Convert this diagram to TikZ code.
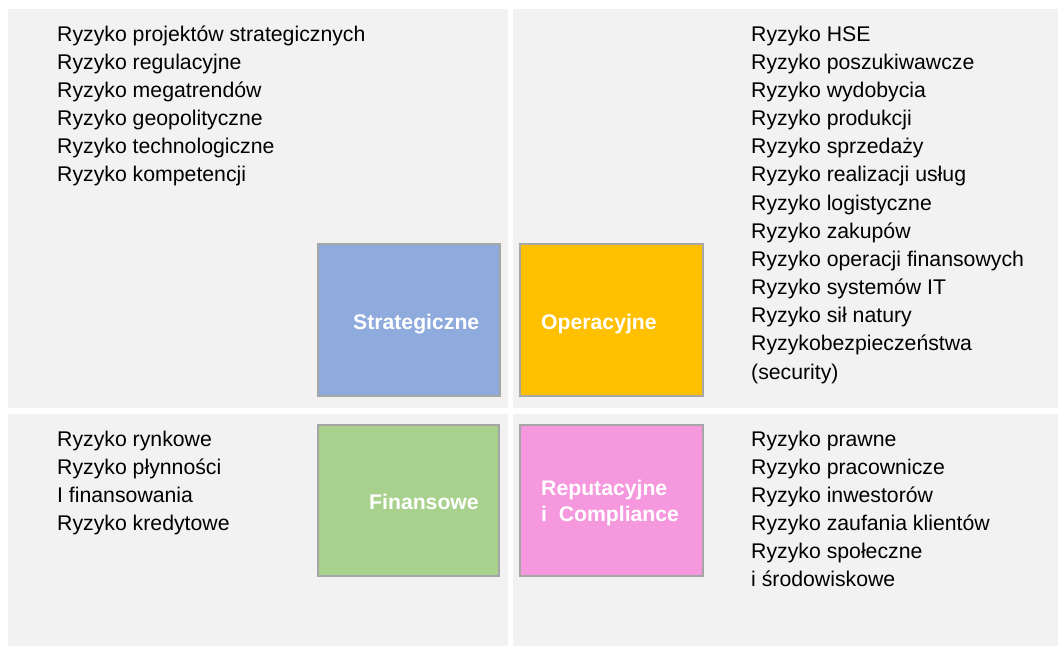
\documentclass[tikz,border=0pt]{standalone}
\usepackage{fontspec}
\setmainfont{Liberation Sans}
\definecolor{panel}{HTML}{F2F2F2}
\definecolor{boxline}{HTML}{A6A6A6}
\definecolor{cblue}{HTML}{8FAADC}
\definecolor{corange}{HTML}{FFC000}
\definecolor{cgreen}{HTML}{A9D18E}
\definecolor{cpink}{HTML}{F598DD}
\tikzset{
  panelbox/.style={fill=panel, draw=none},
  catbox/.style={draw=boxline, line width=1.5pt, minimum width=#1, minimum height=152pt, inner sep=0pt},
  catlabel/.style={anchor=base west, inner sep=0pt, text=white, font=\fontsize{21.2}{26}\selectfont\bfseries},
  item/.style={anchor=base west, inner sep=0pt, text=black, font=\fontsize{21.25}{28}\selectfont}
}
\begin{document}
\begin{tikzpicture}[x=1pt,y=1pt]
\useasboundingbox (0,0) rectangle (1058,-646);
\fill[white] (0,0) rectangle (1058,-646);
% panels
\fill[panelbox] (8,-9) rectangle (508,-408);
\fill[panelbox] (513,-9) rectangle (1058,-408);
\fill[panelbox] (8,-414) rectangle (508,-646);
\fill[panelbox] (513,-414) rectangle (1058,-646);
% category boxes
\node[catbox=182pt, fill=cblue] (strat) at (409,-320) {};
\node[catbox=183pt, fill=corange] (oper) at (611.5,-320) {};
\node[catbox=181pt, fill=cgreen, minimum height=151pt] (fin) at (408.5,-500.5) {};
\node[catbox=183pt, fill=cpink, minimum height=151pt] (rep) at (611.5,-500.5) {};
\node[catlabel] (stratlbl) at (353,-329) {Strategiczne};
\node[catlabel] (operlbl) at (541,-329) {Operacyjne};
\node[catlabel] (finlbl) at (369,-509) {Finansowe};
\node[catlabel] (replbl1) at (541,-495) {Reputacyjne};
\node[catlabel] (replbl2) at (541,-521) {i~~Compliance};
% top-left list
\foreach \t [count=\i] in {Ryzyko projektów strategicznych, Ryzyko regulacyjne, Ryzyko megatrendów, Ryzyko geopolityczne, Ryzyko technologiczne, Ryzyko kompetencji}
  \node[item] (tl\i) at (57,{-41-28*(\i-1)}) {\t};
% top-right list
\foreach \t [count=\i] in {Ryzyko HSE, Ryzyko poszukiwawcze, Ryzyko wydobycia, Ryzyko produkcji, Ryzyko sprzedaży, Ryzyko realizacji usług, Ryzyko logistyczne, Ryzyko zakupów, Ryzyko operacji finansowych, Ryzyko systemów IT, Ryzyko sił natury, Ryzykobezpieczeństwa, (security)}
  \node[item] (tr\i) at (751,{-41-28.17*(\i-1)}) {\t};
% bottom-left list
\foreach \t [count=\i] in {Ryzyko rynkowe, Ryzyko płynności, I finansowania, Ryzyko kredytowe}
  \node[item] (bl\i) at (57,{-446-28*(\i-1)}) {\t};
% bottom-right list
\foreach \t [count=\i] in {Ryzyko prawne, Ryzyko pracownicze, Ryzyko inwestorów, Ryzyko zaufania klientów, Ryzyko społeczne, i środowiskowe}
  \node[item] (br\i) at (751,{-446-28*(\i-1)}) {\t};
\end{tikzpicture}
\end{document}
